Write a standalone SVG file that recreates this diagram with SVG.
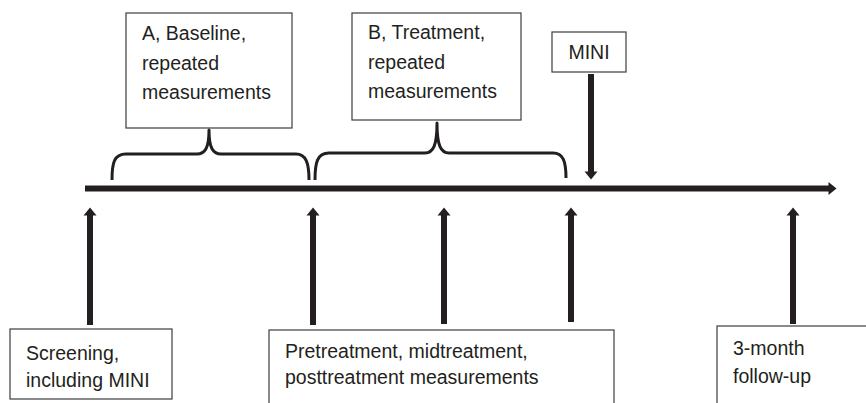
<svg xmlns="http://www.w3.org/2000/svg" width="866" height="403" viewBox="0 0 866 403">
<style>
.box{fill:#fff;stroke:#3c3c3c;stroke-width:1.2}
.t{font-family:"Liberation Sans",Arial,sans-serif;font-size:19.5px;fill:#231f20}
.ln{stroke:#231f20;fill:none}
.shaft{stroke-width:6}
.brace{stroke-width:3;stroke-linejoin:round;stroke-linecap:butt}
</style>
<defs>
<marker id="ah" markerUnits="userSpaceOnUse" markerWidth="8" markerHeight="13" viewBox="0 0 8 13" refX="0.5" refY="6.5" orient="auto" overflow="visible">
<path d="M0,0 L8,6.5 L0,13 z" fill="#231f20"/>
</marker>
</defs>
<rect width="866" height="403" fill="#fff"/>
<g id="connectors">
<line class="ln shaft" x1="85" y1="188.5" x2="829" y2="188.5" stroke-width="6.5" marker-end="url(#ah)"/>
<line class="ln shaft" x1="591" y1="74" x2="591" y2="172" stroke-width="7" marker-end="url(#ah)"/>
<line class="ln shaft" x1="90" y1="325" x2="90" y2="215" marker-end="url(#ah)"/>
<line class="ln shaft" x1="313" y1="325" x2="313" y2="215" marker-end="url(#ah)"/>
<line class="ln shaft" x1="444" y1="324" x2="444" y2="215" marker-end="url(#ah)"/>
<line class="ln shaft" x1="571" y1="322" x2="571" y2="215" marker-end="url(#ah)"/>
<line class="ln shaft" x1="793" y1="324" x2="793" y2="215" marker-end="url(#ah)"/>
<path class="ln brace" d="M112,180 C112,163 114,154 126,154 L197,154 C205,154 209,148 209,130 C209,148 213,154 221,154 L296,154 C306,154 309,163 309,180"/>
<path class="ln brace" d="M315,180 C315,163 317,153 329,153 L425,153 C433,153 437,146 437,123 C437,146 441,153 449,153 L553,153 C563,153 566,161 566,178"/>
</g>
<g id="node-baseline">
<rect class="box" x="126" y="13" width="166" height="115"/>
<text class="t" x="142" y="40">A, Baseline,</text>
<text class="t" x="142" y="70">repeated</text>
<text class="t" x="142" y="99">measurements</text>
</g>
<g id="node-treatment">
<rect class="box" x="352" y="13" width="169" height="107"/>
<text class="t" x="368" y="39">B, Treatment,</text>
<text class="t" x="368" y="69">repeated</text>
<text class="t" x="368" y="98">measurements</text>
</g>
<g id="node-mini">
<rect class="box" x="552" y="32" width="74" height="40"/>
<text class="t" x="589" y="59" text-anchor="middle">MINI</text>
</g>
<g id="node-screening">
<rect class="box" x="10" y="329" width="162" height="70"/>
<text class="t" x="26" y="360">Screening,</text>
<text class="t" x="26" y="387">including MINI</text>
</g>
<g id="node-measurements">
<rect class="box" x="269" y="330" width="345" height="90"/>
<text class="t" x="285" y="358">Pretreatment, midtreatment,</text>
<text class="t" x="285" y="384">posttreatment measurements</text>
</g>
<g id="node-followup">
<rect class="box" x="717" y="326" width="160" height="100"/>
<text class="t" x="733" y="355">3-month</text>
<text class="t" x="733" y="383">follow-up</text>
</g>
</svg>
